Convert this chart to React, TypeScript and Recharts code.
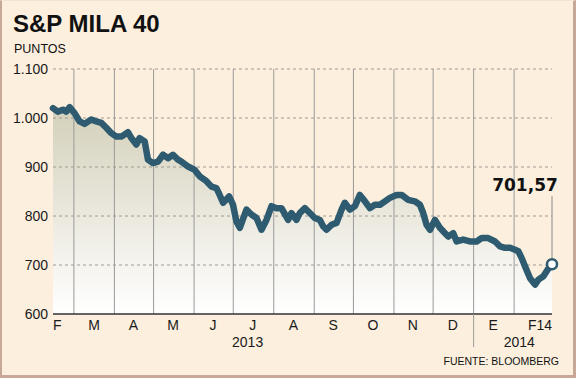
import React from 'react';
import { ComposedChart, Area, Line, XAxis, YAxis, ReferenceLine } from 'recharts';

// Days counted from 1 March 2013 (day 0)
const days = [-16, -12.3, -8.4, -5.8, -3.3, 0.5, 4.4, 8.2, 13.3, 17.2, 21, 24.8, 28.7, 32.5, 36.3, 41.4, 44, 47.8, 50.3, 54.2, 56.7, 60.5, 64.4, 68.2, 72, 75.9, 79.7, 82.3, 87.4, 92.5, 96.3, 101.5, 105.3, 109.1, 111.6, 114.2, 118.8, 121.8, 124.4, 127, 132.1, 135.9, 139.8, 143.6, 147.4, 151.3, 155.1, 158.9, 164, 166.6, 170.4, 172.9, 176.8, 180.6, 184.4, 188.3, 190.8, 193.4, 197.2, 201.1, 204.9, 207.4, 211.3, 215.1, 218.9, 222.8, 226.6, 230.4, 234.3, 238.1, 241.9, 247, 250.9, 255.9, 261, 264.9, 267.4, 270, 272.6, 276.4, 280.2, 284.1, 286.6, 290.4, 293, 298, 303.2, 308.3, 312.2, 317.2, 322.4, 326.2, 330, 333.9, 337.7, 340.2, 342.8, 345.4, 349.2, 353, 355.6, 359.4, 362.5, 366];
const values = [1020, 1013, 1017, 1013, 1022, 1010, 993, 988, 997, 993, 990, 980, 969, 962, 962, 971, 959, 946, 959, 952, 915, 908, 911, 925, 918, 925, 915, 911, 901, 894, 881, 871, 860, 857, 843, 827, 840, 823, 789, 776, 813, 803, 796, 772, 792, 820, 816, 816, 792, 806, 792, 806, 816, 806, 796, 792, 779, 772, 782, 786, 813, 827, 813, 820, 843, 830, 816, 823, 823, 830, 837, 843, 843, 833, 830, 823, 806, 782, 772, 792, 776, 765, 758, 765, 748, 752, 748, 748, 755, 755, 748, 738, 735, 735, 731, 728, 714, 697, 673, 660, 670, 677, 690, 701.57];

const monthBoundaries = [0, 31, 61, 92, 122, 153, 184, 214, 245, 275, 306, 337];
const monthLabels = ['F', 'M', 'A', 'M', 'J', 'J', 'A', 'S', 'O', 'N', 'D', 'E', 'F14'];
const monthTickDays = [-16, 15.5, 45.5, 76, 106.5, 137, 168, 198.5, 229, 259.5, 290, 321, 366];
const yearLabels = ['2013', '2014'];
const yearTickDays = [133, 341];
const yearDivider = 306;
const yTicks = [600, 700, 800, 900, 1000, 1100];
const xDomain = [-16, 366];

const data = days.map((d, i) => ({ day: d, value: values[i] }));

const LINE = '#2E5B70';
const FONT = '"Liberation Sans", Arial, sans-serif';

const fmtThousands = (v: number) => {
  const s = String(v);
  return s.length > 3 ? s.slice(0, s.length - 3) + '.' + s.slice(s.length - 3) : s;
};

const MonthTick = (props: any) => {
  const { x, y, payload } = props;
  const idx = monthTickDays.indexOf(payload.value);
  const label = monthLabels[idx] ?? '';
  const anchor = idx === 0 ? 'start' : idx === monthTickDays.length - 1 ? 'end' : 'middle';
  return (
    <text x={x} y={y + 16} textAnchor={anchor} fontFamily={FONT} fontSize={14} fill="#1a1a1a">
      {label}
    </text>
  );
};

const YearTick = (props: any) => {
  const { x, y, payload } = props;
  if (payload.value === yearDivider) {
    return <line x1={x} x2={x} y1={y - 18} y2={y + 15} stroke="#9a9a9a" strokeWidth={1} />;
  }
  const idx = yearTickDays.indexOf(payload.value);
  return (
    <text x={x} y={y + 15} textAnchor="middle" fontFamily={FONT} fontSize={14} fill="#1a1a1a">
      {yearLabels[idx] ?? ''}
    </text>
  );
};

const YTick = (props: any) => {
  const { x, y, payload } = props;
  return (
    <text x={x} y={y + 5} textAnchor="end" fontFamily={FONT} fontSize={14} fill="#1a1a1a">
      {fmtThousands(payload.value)}
    </text>
  );
};

const EndDot = (props: any) => {
  const { cx, cy, index, payload } = props;
  if (index !== data.length - 1) return <g key={`d${index}`} />;
  const txt = payload.value.toFixed(2).replace('.', ',');
  return (
    <g key={`d${index}`}>
      <line x1={cx} x2={cx} y1={cy - 68} y2={cy - 5} stroke="#8a8a8a" strokeWidth={1} />
      <circle cx={cx} cy={cy} r={5} fill="#ffffff" stroke={LINE} strokeWidth={2.5} />
      <text x={cx - 27} y={cy - 73} textAnchor="middle" fontFamily='"DejaVu Sans", Verdana, sans-serif' fontWeight="bold" fontSize={17} fill="#111">
        {txt}
      </text>
    </g>
  );
};

export default function App() {
  return (
    <div style={{ position: 'absolute', left: 0, top: 0, width: 576, height: 378, background: '#FCEFDE', overflow: 'hidden' }}>
      <div style={{ position: 'absolute', left: 13, top: 10, fontFamily: FONT, fontWeight: 'bold', fontSize: 24, color: '#111', lineHeight: '28px' }}>
        S&amp;P MILA 40
      </div>
      <div style={{ position: 'absolute', left: 14, top: 41, fontFamily: FONT, fontSize: 12.5, color: '#111', lineHeight: '16px' }}>
        PUNTOS
      </div>
      <div style={{ position: 'absolute', right: 17, top: 354, fontFamily: FONT, fontSize: 10.5, color: '#111', lineHeight: '14px' }}>
        FUENTE: BLOOMBERG
      </div>
      <div style={{ position: 'absolute', left: 0, top: 0 }}>
        <ComposedChart width={576} height={378} data={data} margin={{ top: 69, right: 24, bottom: 18, left: 8 }}>
          <defs>
            <linearGradient id="areaFill" x1="0" y1="0" x2="0" y2="1">
              <stop offset="0%" stopColor="#D3D0BA" />
              <stop offset="55%" stopColor="#ECEAE0" />
              <stop offset="100%" stopColor="#FFFFFF" />
            </linearGradient>
          </defs>
          <XAxis
            dataKey="day"
            type="number"
            domain={xDomain}
            ticks={monthTickDays}
            tick={<MonthTick />}
            tickLine={false}
            tickSize={0}
            tickMargin={0}
            height={18}
            interval={0}
            axisLine={{ stroke: '#333', strokeWidth: 1.5 }}
          />
          <XAxis
            xAxisId="yr"
            dataKey="day"
            type="number"
            domain={xDomain}
            ticks={[...yearTickDays, yearDivider]}
            tick={<YearTick />}
            tickLine={false}
            tickSize={0}
            tickMargin={0}
            height={28}
            interval={0}
            axisLine={false}
          />
          <YAxis
            type="number"
            domain={[600, 1100]}
            ticks={yTicks}
            tick={<YTick />}
            tickLine={false}
            tickSize={0}
            tickMargin={5}
            axisLine={false}
            width={45}
          />
          <Area dataKey="value" type="linear" stroke="none" fill="url(#areaFill)" fillOpacity={1} baseValue={600} isAnimationActive={false} />
          {yTicks.slice(1).map((v) => (
            <ReferenceLine key={`h${v}`} y={v} stroke="#A09A92" strokeDasharray="3 3" strokeWidth={1} />
          ))}
          {monthBoundaries.map((d) => (
            <ReferenceLine key={`v${d}`} x={d} stroke="#9a9a9a" strokeWidth={1} />
          ))}
          <Line dataKey="value" type="linear" stroke={LINE} strokeWidth={6.5} strokeLinejoin="round" strokeLinecap="round" dot={<EndDot />} activeDot={false} isAnimationActive={false} />
        </ComposedChart>
      </div>
      <div style={{ position: 'absolute', inset: 0, borderLeft: '2px solid #C7A898', borderRight: '3px solid #C7A898', borderBottom: '3px solid #C7A898', borderTop: '1px solid #EFE4D6', pointerEvents: 'none' }} />
    </div>
  );
}
